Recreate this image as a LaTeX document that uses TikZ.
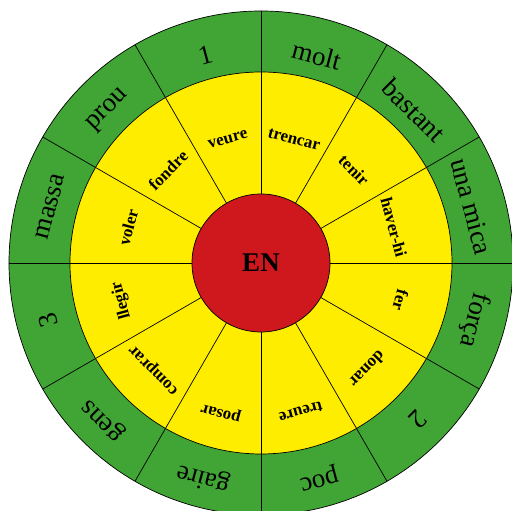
\documentclass[tikz,border=0pt]{standalone}
\usepackage{fontspec}
\setmainfont{Liberation Serif}
\definecolor{ringgreen}{RGB}{64,165,52}
\definecolor{ringyellow}{RGB}{255,237,0}
\definecolor{corered}{RGB}{206,24,30}
\begin{document}
\begin{tikzpicture}[x=1pt,y=1pt,
  outerlabel/.style={font=\fontsize{27}{27}\selectfont, inner sep=0pt},
  innerlabel/.style={font=\bfseries\fontsize{17}{17}\selectfont, inner sep=0pt},
  corelabel/.style={font=\bfseries\fontsize{27}{27}\selectfont},
  spoke/.style={draw=black, line width=0.7pt}]
\useasboundingbox (-261,-248) rectangle (251,263);
\begin{scope}
\clip (-261,-248) rectangle (251,263);
\filldraw[fill=ringgreen, draw=black, line width=0.7pt] (0,0) circle (252);
\filldraw[fill=ringyellow, draw=black, line width=0.7pt] (0,0) circle (191);
\foreach \a in {0,30,...,330} \draw[spoke] (\a:60) -- (\a:252);
\node[circle, fill=corered, draw=black, line width=0.7pt, minimum size=138pt, inner sep=0pt, corelabel] (core) at (0,0) {EN};
\end{scope}
\foreach \a/\t/\n in {105/1/g1, 75/molt/g2, 45/bastant/g3, 15/una mica/g4, -15/força/g5, -45/2/g6, -75/poc/g7, -105/gaire/g8, -135/gens/g9, -165/3/g10, 165/massa/g11, 135/prou/g12}
  \node[outerlabel, rotate=\a-90] (\n) at (\a:{219-4*sin(\a)}) {\t};
\foreach \a/\t/\n in {105/veure/y1, 75/trencar/y2, 45/tenir/y3, 15/haver-hi/y4, -15/fer/y5, -45/donar/y6, -75/treure/y7, -105/posar/y8, -135/comprar/y9, -165/llegir/y10, 165/voler/y11, 135/fondre/y12}
  \node[innerlabel, rotate=\a-90] (\n) at (\a:{141-13.5*sin(\a)}) {\t};
\end{tikzpicture}
\end{document}
